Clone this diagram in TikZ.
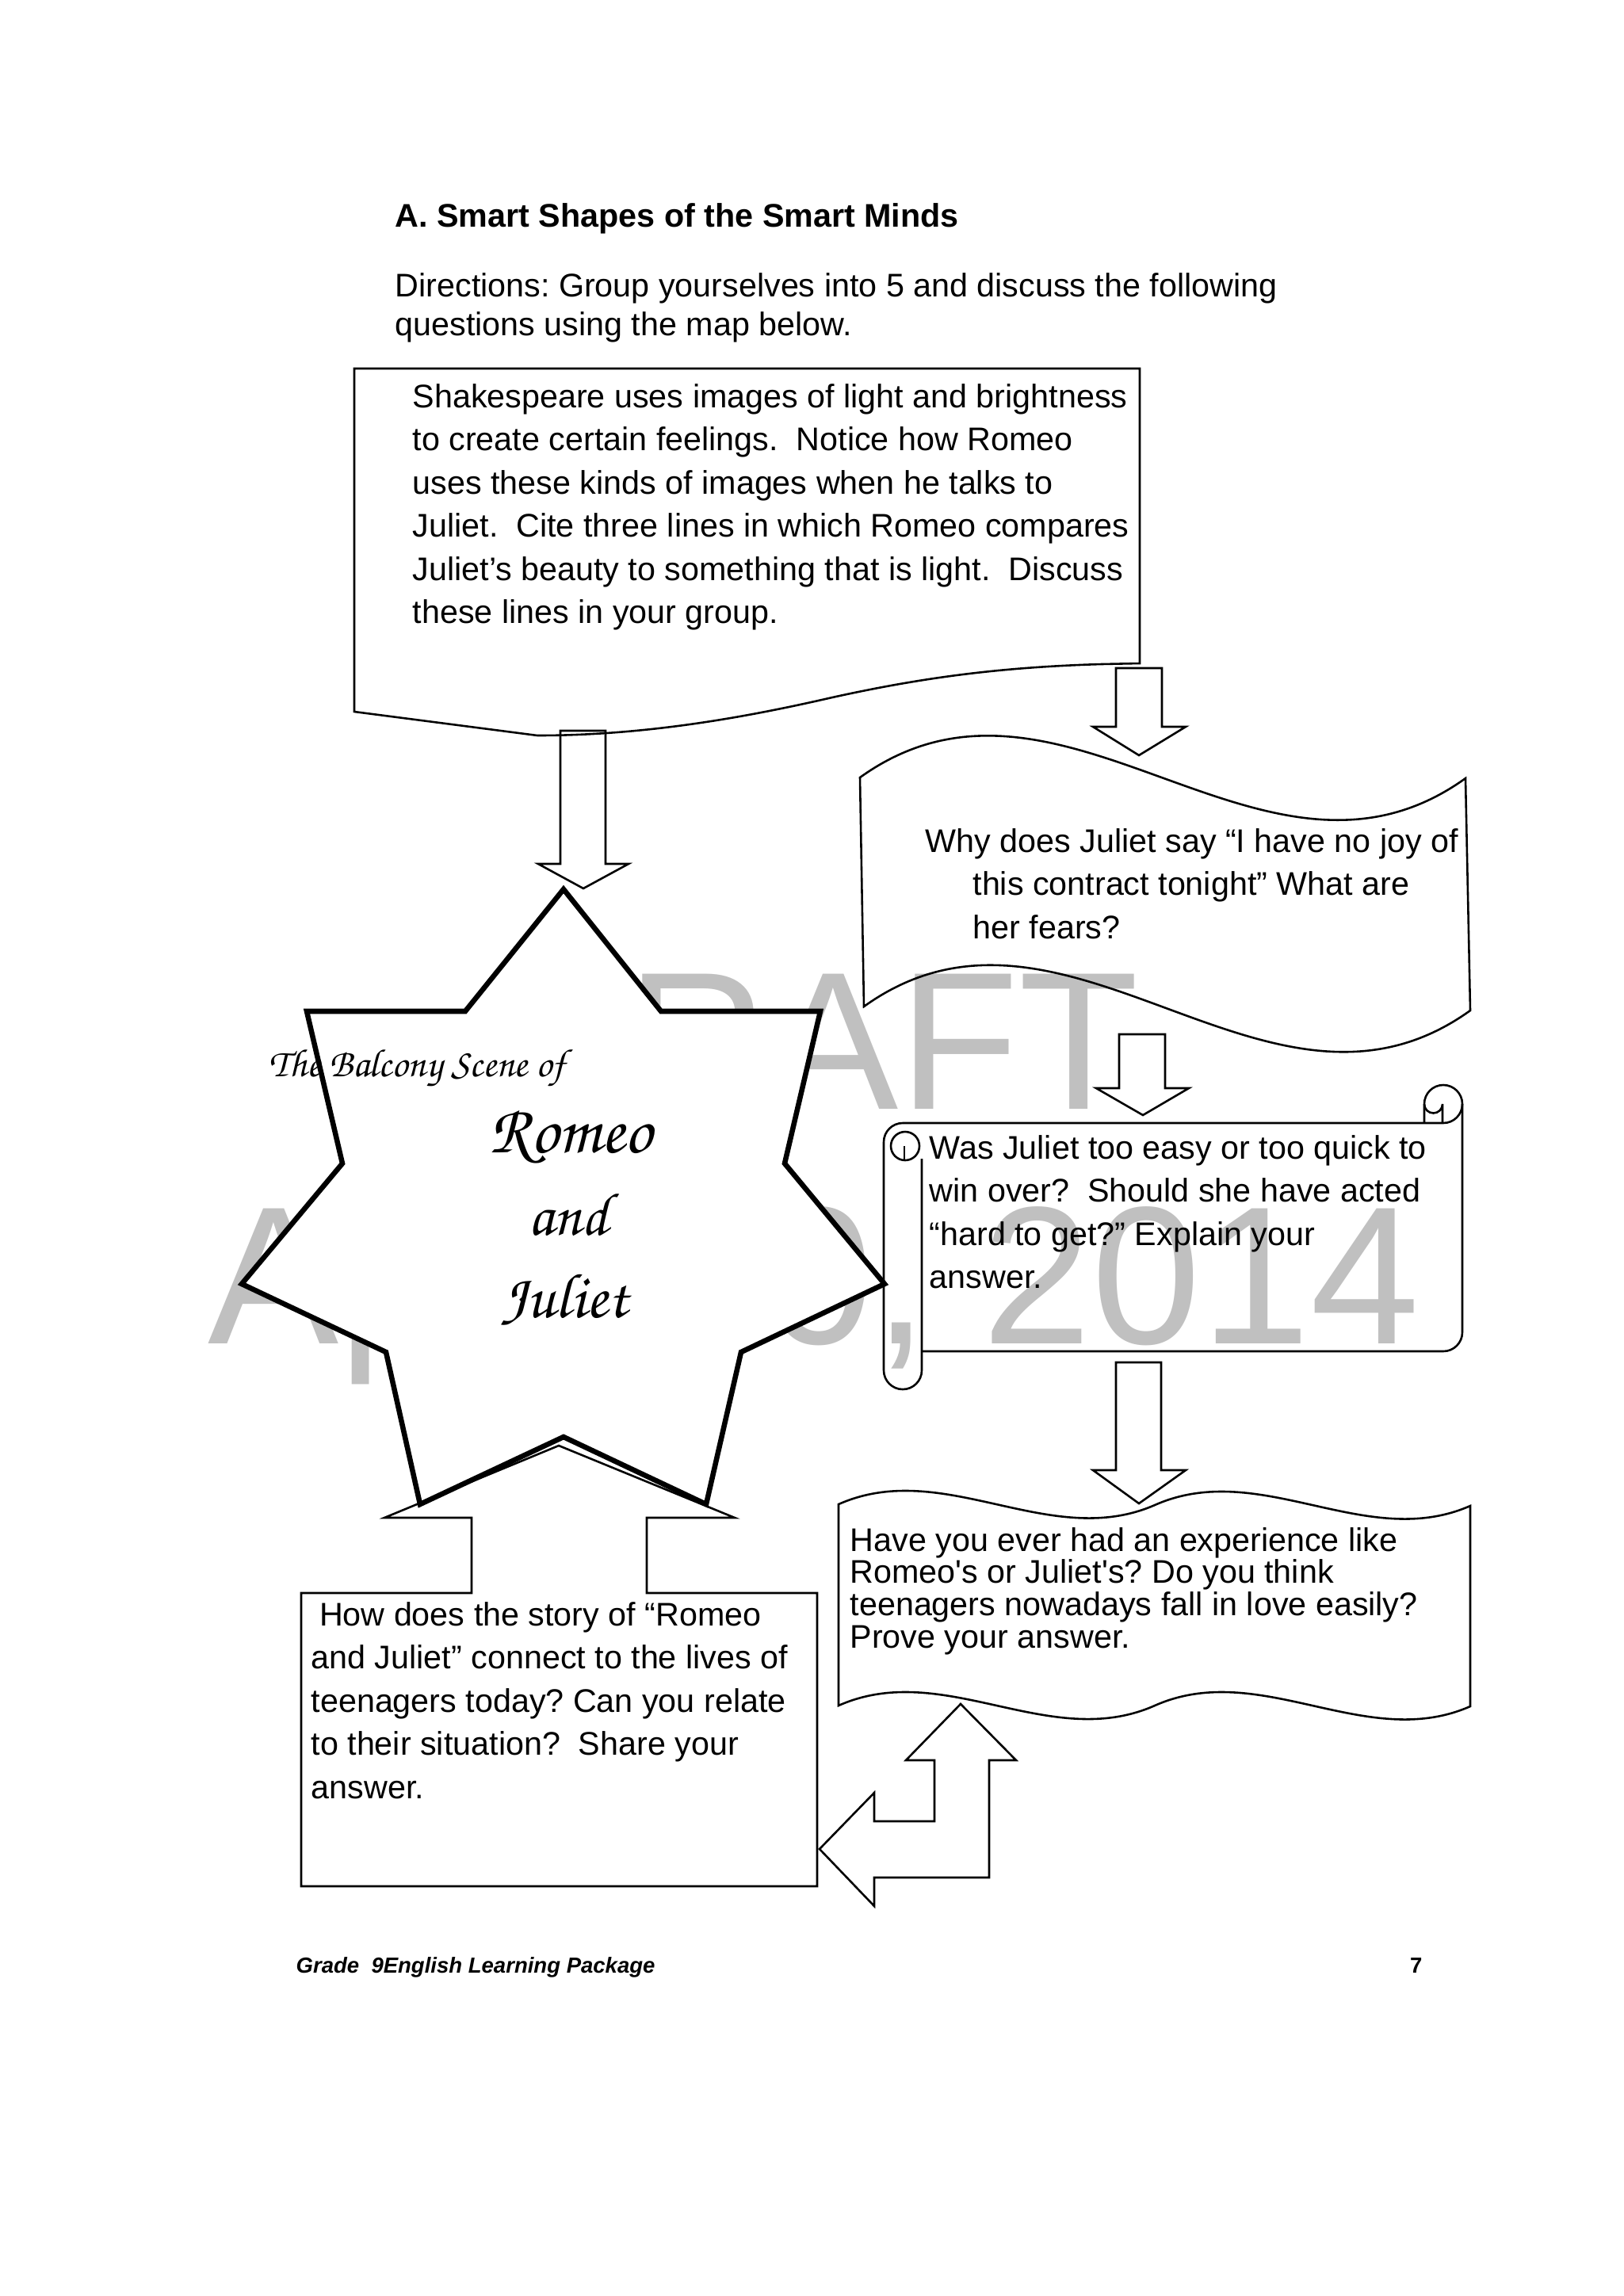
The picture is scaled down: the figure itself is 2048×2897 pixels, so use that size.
\documentclass[tikz,border=0pt]{standalone}
\usepackage{fontspec}
\setmainfont{Liberation Sans}
\usepackage[T1,TU]{fontenc}
\usepackage{graphicx}
\definecolor{wmgray}{RGB}{192,192,192}
\newcommand\scriptf{\fontencoding{T1}\fontfamily{pzc}\fontseries{mb}\fontshape{it}\selectfont}
\newcommand\qbox[2]{\parbox[t]{14cm}{\frenchspacing\fontsize{12pt}{#1}\selectfont\raggedright #2}}
\begin{document}
\frenchspacing
\begin{tikzpicture}[x=0.29066pt,y=-0.29066pt,
  box/.style={draw=black, line width=0.75pt, line join=miter},
  starline/.style={draw=black, fill=white, line width=1.9pt, line join=miter},
  wm/.style={text=wmgray, font=\fontsize{72pt}{80pt}\selectfont, inner sep=0, anchor=base},
  txt/.style={inner sep=0, anchor=base west},
  scr/.style={inner sep=0, anchor=base}]
\useasboundingbox (0,0) rectangle (2048,2897);
\fill[white] (0,0) rectangle (2048,2897);

% header
\node[txt] (title) at (498,286) {\fontsize{12pt}{14pt}\selectfont\bfseries A. Smart Shapes of the Smart Minds};
\node[txt] (dir) at (498,374) {\qbox{14.25pt}{Directions: Group yourselves into 5 and discuss the following\\questions using the map below.}};

% watermark
\node[wm] (wm1) at (1024,1399) {DRAFT};
\node[wm] (wm2) at (1027,1695) {April 10, 2014};

% star
\draw[starline] (711,1122) -- (587,1276) -- (387,1276) -- (432,1468) -- (305,1620) -- (487,1706)
  -- (530,1898) -- (711,1813) -- (891,1898) -- (935,1706) -- (1116,1620) -- (990,1468)
  -- (1035,1276) -- (834,1276) -- cycle;
\node[inner sep=0, anchor=base west] (bal) at (339,1358) {\resizebox{108.4pt}{!}{\scriptf The Balcony Scene of}};
\node[scr] (rom) at (720,1454) {\resizebox{59.6pt}{!}{\scriptf Romeo}};
\node[scr] (and) at (717,1558) {\resizebox{29.4pt}{!}{\scriptf and}};
\node[scr] (jul) at (712,1662) {\resizebox{46.5pt}{!}{\scriptf Juliet}};

% top box
\draw[box] (447,465) -- (1438,465) -- (1438,837) -- (1390,838)
  .. controls (1250,842) and (1150,858) .. (1050,880)
  .. controls (950,903) and (820,928) .. (678,928) -- (447,898) -- cycle;
\node[txt] (q1) at (520,514) {\qbox{15.85pt}{Shakespeare uses images of light and brightness\\
to create certain feelings.\ \ Notice how Romeo\\
uses these kinds of images when he talks to\\
Juliet.\ \ Cite three lines in which Romeo compares\\
Juliet’s beauty to something that is light.\ \ Discuss\\
these lines in your group.}};

% arrows top
\draw[box] (707,922) -- (764,922) -- (764,1090) -- (793,1090) -- (736,1121) -- (679,1090) -- (707,1090) -- cycle;
\draw[box] (1408,843) -- (1466,843) -- (1466,917) -- (1496,917) -- (1437,953) -- (1379,917) -- (1408,917) -- cycle;

% wave box 1
\draw[box] (1085,981) .. controls (1340,798) and (1594,1165) .. (1849,982) -- (1855,1275)
  .. controls (1600,1458) and (1345,1087) .. (1090,1270) -- cycle;
\node[txt] (q2) at (1167,1075) {\qbox{15.85pt}{Why does Juliet say “I have no joy of\\
\hspace*{17.4pt}this contract tonight” What are\\
\hspace*{17.4pt}her fears?}};

% arrow 3
\draw[box] (1412,1305) -- (1470,1305) -- (1470,1373) -- (1500,1373) -- (1442,1407) -- (1383,1373) -- (1412,1373) -- cycle;

% scroll
\draw[box] (1139,1417) -- (1821,1417) arc[start angle=90, end angle=0, radius=24];
\draw[box] (1797,1417) -- (1797,1393) arc[start angle=180, end angle=360, radius=24]
  -- (1845,1681) arc[start angle=0, end angle=90, radius=24] -- (1163,1705);
\draw[box] (1797,1393) arc[start angle=180, end angle=0, radius=11.5] -- (1820,1417);
\draw[box] (1139,1417) arc[start angle=-90, end angle=-180, radius=24] -- (1115,1729)
  arc[start angle=180, end angle=0, radius=24] -- (1163,1462);
\draw[box] (1142,1446) circle[radius=18];
\draw[box] (1141,1446) -- (1141,1464);
\node[txt] (q3) at (1172,1462) {\qbox{15.85pt}{Was Juliet too easy or too quick to\\
win over?\ \ Should she have acted\\
“hard to get?” Explain your\\
answer.}};

% arrow 5
\draw[box] (1408,1719) -- (1465,1719) -- (1465,1855) -- (1496,1855) -- (1437,1897) -- (1379,1855) -- (1408,1855) -- cycle;

% wave box 2
\draw[box] (1058,1898) .. controls (1191,1839) and (1324,1957) .. (1457,1899)
  .. controls (1590,1840) and (1723,1958) .. (1855,1900) -- (1855,2153)
  .. controls (1723,2211) and (1590,2093) .. (1457,2152)
  .. controls (1324,2211) and (1191,2093) .. (1058,2152) -- cycle;
\node[txt] (q5) at (1072,1957) {\qbox{11.9pt}{Have you ever had an experience like\\
Romeo\textquotesingle s or Juliet\textquotesingle s? Do you think\\
teenagers nowadays fall in love easily?\\
Prove your answer.}};

% bent arrow
\draw[box] (1034,2333) -- (1103,2262) -- (1103,2298) -- (1179,2298) -- (1179,2221) -- (1143,2221)
  -- (1212,2150) -- (1282,2221) -- (1248,2221) -- (1248,2369) -- (1103,2369) -- (1103,2405) -- cycle;

% bottom box with up arrow
\draw[box] (380,2010) -- (595,2010) -- (595,1915) -- (485,1915) -- (705,1824) -- (927,1915)
  -- (816,1915) -- (816,2010) -- (1031,2010) -- (1031,2380) -- (380,2380) -- cycle;
\node[txt] (q4) at (392,2051) {\qbox{15.85pt}{\hspace*{3pt}How does the story of “Romeo\\
and Juliet” connect to the lives of\\
teenagers today? Can you relate\\
to their situation?\ \ Share your\\
answer.}};

% footer
\node[txt] (foot) at (373,2489) {\fontsize{8pt}{10pt}\selectfont\bfseries\itshape Grade\ \ 9English Learning Package};
\node[inner sep=0, anchor=base east] (page) at (1795,2489) {\fontsize{8pt}{10pt}\selectfont\bfseries 7};
\end{tikzpicture}
\end{document}
